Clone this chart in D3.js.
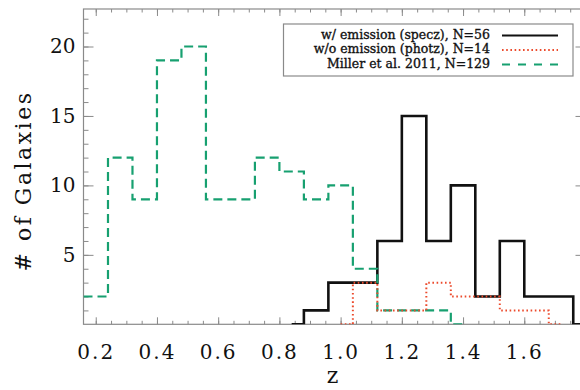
<!DOCTYPE html>
<html>
<head>
<meta charset="utf-8">
<script src="https://cdn.jsdelivr.net/npm/d3@7"></script>
<style>
  html, body { margin: 0; padding: 0; background: #fff; }
  svg { display: block; }
</style>
</head>
<body>
<svg id="chart" width="580" height="390"></svg>
<script>
// Redshift histograms, bin width 0.08 in z
const binWidth = 0.08;

// Miller et al. 2011 sample (first bin starts at z = 0.16)
const millerStart = 0.16;
const millerCounts = [2, 12, 9, 19, 20, 9, 9, 12, 11, 9, 10, 4, 1, 1, 1, 0];

// With emission lines, spectroscopic redshifts (first bin starts at z = 0.80)
const speczStart = 0.80;
const speczCounts = [0, 1, 3, 3, 6, 15, 6, 10, 2, 6, 2, 2, 0];

// Without emission lines, photometric redshifts (first bin starts at z = 0.96)
const photzStart = 0.96;
const photzCounts = [0, 3, 1, 1, 3, 2, 2, 1, 1, 0];

const xTickValues = [0.2, 0.4, 0.6, 0.8, 1.0, 1.2, 1.4, 1.6, 1.8];
const xTickLabels = ["0.2", "0.4", "0.6", "0.8", "1.0", "1.2", "1.4", "1.6", ""];
const yTickValues = [5, 10, 15, 20];

const legendLabels = [
  "w/ emission (specz), N=56",
  "w/o emission (photz), N=14",
  "Miller et al. 2011, N=129"
];

const svg = d3.select("#chart");
const plot = { left: 83.5, top: 9, right: 585.5, bottom: 324.3 };

const x = d3.scaleLinear().domain([0.16, 1.80]).range([plot.left, plot.right]);
const y = d3.scaleLinear().domain([0, 22.7]).range([plot.bottom, plot.top]);

const axisColor = "#8a8a8a";
const serif = "'DejaVu Serif', 'Liberation Serif', serif";

// clip region for the histogram lines
svg.append("defs").append("clipPath").attr("id", "plotClip")
  .append("rect")
  .attr("x", plot.left).attr("y", plot.top)
  .attr("width", plot.right - plot.left).attr("height", plot.bottom - plot.top);

// ---- axes: major + minor ticks on all four sides, pointing inward ----
const xMinor = d3.range(0.20, 1.801, 0.05).map(v => +v.toFixed(2));
const yMinor = d3.range(1, 23);

function styleAxis(g) {
  g.select(".domain").remove();
  g.selectAll(".tick line").attr("stroke", axisColor).attr("stroke-width", 1);
  g.selectAll(".tick text")
    .attr("fill", "#111")
    .attr("font-family", serif)
    .attr("font-size", 20);
}

// bottom
svg.append("g").attr("transform", `translate(0,${plot.bottom})`)
  .call(d3.axisBottom(x).tickValues(xMinor).tickFormat("").tickSizeInner(-3.5).tickSizeOuter(0))
  .call(styleAxis);
svg.append("g").attr("transform", `translate(0,${plot.bottom})`)
  .call(d3.axisBottom(x).tickValues(xTickValues).tickFormat((d, i) => xTickLabels[i])
        .tickSizeInner(-7).tickSizeOuter(0).tickPadding(21))
  .call(styleAxis)
  .call(g => g.selectAll(".tick text").attr("letter-spacing", "2px"));

// top
svg.append("g").attr("transform", `translate(0,${plot.top})`)
  .call(d3.axisTop(x).tickValues(xMinor).tickFormat("").tickSizeInner(-3.5).tickSizeOuter(0))
  .call(styleAxis);
svg.append("g").attr("transform", `translate(0,${plot.top})`)
  .call(d3.axisTop(x).tickValues(xTickValues).tickFormat("").tickSizeInner(-7).tickSizeOuter(0))
  .call(styleAxis);

// left
svg.append("g").attr("transform", `translate(${plot.left},0)`)
  .call(d3.axisLeft(y).tickValues(yMinor).tickFormat("").tickSizeInner(-5).tickSizeOuter(0))
  .call(styleAxis);
svg.append("g").attr("transform", `translate(${plot.left},0)`)
  .call(d3.axisLeft(y).tickValues(yTickValues).tickFormat(d3.format("d"))
        .tickSizeInner(-10).tickSizeOuter(0).tickPadding(8))
  .call(styleAxis);

// right
svg.append("g").attr("transform", `translate(${plot.right},0)`)
  .call(d3.axisRight(y).tickValues(yMinor).tickFormat("").tickSizeInner(-5).tickSizeOuter(0))
  .call(styleAxis);
svg.append("g").attr("transform", `translate(${plot.right},0)`)
  .call(d3.axisRight(y).tickValues(yTickValues).tickFormat("").tickSizeInner(-10).tickSizeOuter(0))
  .call(styleAxis);

// frame
svg.append("rect")
  .attr("x", plot.left).attr("y", plot.top)
  .attr("width", plot.right - plot.left).attr("height", plot.bottom - plot.top)
  .attr("fill", "none").attr("stroke", axisColor).attr("stroke-width", 1.2);

// ---- histograms drawn as steps between bin centres ----
function centres(start, counts) {
  return counts.map((n, i) => ({ z: start + binWidth * (i + 0.5), n }));
}
const stepLine = d3.line().x(d => x(d.z)).y(d => y(d.n)).curve(d3.curveStep);

const hist = svg.append("g").attr("clip-path", "url(#plotClip)");

const speczPts = centres(speczStart, speczCounts);
const millerPts = centres(millerStart, millerCounts);
// the first Miller bin continues to the left edge of the axis
millerPts.unshift({ z: x.domain()[0], n: millerCounts[0] });
const photzPts = centres(photzStart, photzCounts);

const styles = {
  specz: { stroke: "#111", width: 2.6, dash: null },
  miller: { stroke: "#17a070", width: 2.2, dash: "9,5" },
  photz: { stroke: "#ec4a2c", width: 2, dash: "1.6,2.6" }
};

hist.append("path").datum(speczPts)
  .attr("d", stepLine).attr("fill", "none")
  .attr("stroke", styles.specz.stroke).attr("stroke-width", styles.specz.width)
  .attr("stroke-linejoin", "miter");
hist.append("path").datum(millerPts)
  .attr("d", stepLine).attr("fill", "none")
  .attr("stroke", styles.miller.stroke).attr("stroke-width", styles.miller.width)
  .attr("stroke-dasharray", styles.miller.dash);
hist.append("path").datum(photzPts)
  .attr("d", stepLine).attr("fill", "none")
  .attr("stroke", styles.photz.stroke).attr("stroke-width", styles.photz.width)
  .attr("stroke-dasharray", styles.photz.dash);

// ---- axis titles ----
svg.append("text")
  .attr("x", (plot.left + plot.right) / 2 - 2).attr("y", 383)
  .attr("text-anchor", "middle")
  .attr("font-family", serif).attr("font-size", 22).attr("fill", "#111")
  .text("z");

svg.append("text")
  .attr("transform", "translate(31,181) rotate(-90)")
  .attr("text-anchor", "middle")
  .attr("font-family", serif).attr("font-size", 22).attr("fill", "#111")
  .attr("letter-spacing", "2.5px")
  .text("# of Galaxies");

// ---- legend ----
const legend = svg.append("g");
legend.append("rect")
  .attr("x", 283.5).attr("y", 24).attr("width", 289.5).attr("height", 52)
  .attr("fill", "#fff").attr("stroke", axisColor).attr("stroke-width", 1.2);

const legendKeys = ["specz", "photz", "miller"];
legendLabels.forEach((label, i) => {
  const yy = 35.5 + i * 14.5;
  legend.append("text")
    .attr("x", 490).attr("y", yy + 3)
    .attr("text-anchor", "end")
    .attr("font-family", serif).attr("font-size", 12.5)
    .attr("fill", "#111").attr("stroke", "#111").attr("stroke-width", 0.35)
    .text(label);
  const s = styles[legendKeys[i]];
  legend.append("line")
    .attr("x1", 502).attr("x2", 558).attr("y1", yy).attr("y2", yy)
    .attr("stroke", s.stroke)
    .attr("stroke-width", 1.8)
    .attr("stroke-dasharray", legendKeys[i] === "miller" ? "8,8" : s.dash);
});
</script>
</body>
</html>
